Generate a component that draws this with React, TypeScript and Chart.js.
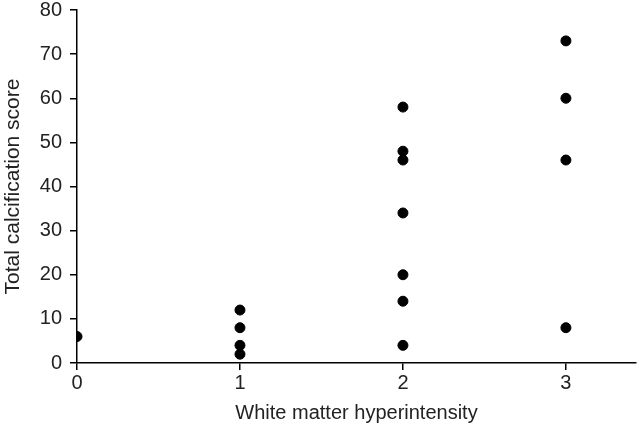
import React, { useEffect, useRef } from "react";
import { Chart, registerables } from "chart.js";

Chart.register(...registerables);

const xValues = [0, 1, 1, 1, 1, 2, 2, 2, 2, 2, 2, 2, 3, 3, 3, 3];
const yValues = [6, 12, 8, 4, 2, 58, 48, 46, 34, 20, 14, 4, 73, 60, 46, 8];
const xTicks = [0, 1, 2, 3];
const yTicks = [0, 10, 20, 30, 40, 50, 60, 70, 80];
const xTitle = "White matter hyperintensity";
const yTitle = "Total calcification score";

export default function App() {
  const ref = useRef<HTMLCanvasElement | null>(null);
  useEffect(() => {
    document.body.style.margin = "0";
    const ctx = ref.current!;
    const family = "'Liberation Sans', Arial, sans-serif";
    const tickFont = { family, size: 20, lineHeight: 1 };
    const titleFont = { family, size: 20, lineHeight: 1 };
    const chart = new Chart(ctx, {
      type: "scatter",
      data: {
        datasets: [
          {
            data: xValues.map((x, i) => ({ x, y: yValues[i] })),
            backgroundColor: "#000",
            borderColor: "#000",
            pointRadius: 5,
            pointHoverRadius: 5,
          },
        ],
      },
      options: {
        animation: false,
        responsive: false,
        layout: { padding: { top: 10, right: 3, left: 0, bottom: 0 } },
        plugins: { legend: { display: false }, tooltip: { enabled: false } },
        scales: {
          x: {
            type: "linear",
            min: 0,
            max: 3.43,
            afterBuildTicks: (s: any) => {
              s.ticks = xTicks.map((v) => ({ value: v }));
            },
            afterFit: (s: any) => {
              s.height = 69;
            },
            border: { color: "#000", width: 1.5 },
            grid: { drawOnChartArea: false, drawTicks: true, tickLength: 7, color: "#000", lineWidth: 1.5 },
            ticks: { color: "#222", font: tickFont, padding: 3, maxRotation: 0 },
            title: { display: true, text: xTitle, color: "#222", font: titleFont, padding: { top: 0, bottom: 9 } },
          },
          y: {
            type: "linear",
            min: 0,
            max: 80,
            afterBuildTicks: (s: any) => {
              s.ticks = yTicks.map((v) => ({ value: v }));
            },
            afterFit: (s: any) => {
              s.width = 77;
              s.paddingTop = 0;
            },
            border: { color: "#000", width: 1.5 },
            grid: { drawOnChartArea: false, drawTicks: true, tickLength: 7, color: "#000", lineWidth: 1.5 },
            ticks: { color: "#222", font: tickFont, padding: 8 },
            title: { display: true, text: yTitle, color: "#222", font: { family, size: 21, lineHeight: 1 }, padding: { top: 3, bottom: 4 } },
          },
        },
      },
    } as any);
    return () => chart.destroy();
  }, []);
  return (
    <div style={{ width: 642, height: 432 }}>
      <canvas ref={ref} width={642} height={432} />
    </div>
  );
}
